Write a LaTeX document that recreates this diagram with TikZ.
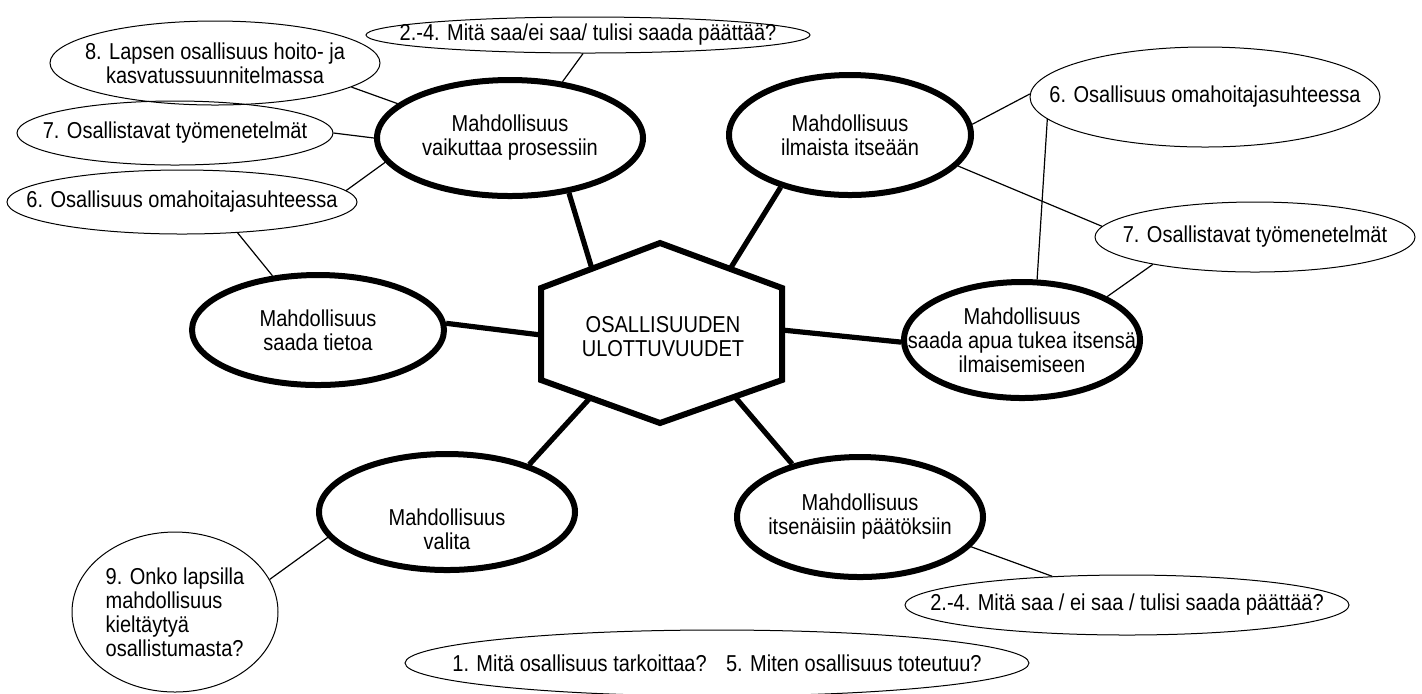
\documentclass[tikz,border=0pt]{standalone}
\usepackage{fontspec}
\setmainfont{Liberation Sans}[FakeStretch=0.87]
\usetikzlibrary{shapes.geometric}

\begin{document}
\begin{tikzpicture}[x=0.5pt, y=-0.5pt,
  every node/.style={font=\fontsize{11.5}{12}\selectfont, align=center},
  big/.style = {ellipse, draw, line width=3pt, inner xsep=-40pt, inner ysep=-10pt},
  small/.style = {ellipse, draw, line width=0.5pt, inner xsep=-40pt, inner ysep=-10pt},
  strong/.style = {line width=2.6pt},
  weak/.style = {line width=0.6pt}]
  \useasboundingbox (0,0) rectangle (1422,693);

  % centre
  \draw[line width=3pt] (660,243) -- (782,288) -- (782,380) -- (660,423) -- (541,380) -- (541,288) -- cycle;
  \node (hex) at (663,337) {OSALLISUUDEN\\ULOTTUVUUDET};
  \coordinate (hex_nw) at (592,269);
  \coordinate (hex_ne) at (730,269);
  \coordinate (hex_w) at (541,335);
  \coordinate (hex_e) at (782,330);
  \coordinate (hex_sw) at (590,398);
  \coordinate (hex_se) at (735,397);

  % dimensions
  \node[big, minimum width=133pt, minimum height=58pt] (influence) at (510,138) {Mahdollisuus\\vaikuttaa prosessiin};
  \node[big, minimum width=121pt, minimum height=60pt] (express) at (850,135) {Mahdollisuus\\ilmaista itseään};
  \node[big, minimum width=126pt, minimum height=55pt] (inform) at (318,330) {Mahdollisuus\\saada tietoa};
  \node[big, minimum width=118pt, minimum height=58pt] (support) at (1022,340) {Mahdollisuus\\saada apua tukea itsensä\\ilmaisemiseen};
  \node[big, minimum width=128pt, minimum height=58pt, text height=37pt, text depth=0pt] (choose) at (447,512) {Mahdollisuus\\valita};
  \node[big, minimum width=123pt, minimum height=60pt] (decide) at (860,517) {Mahdollisuus\\itsenäisiin päätöksiin};

  % questions
  \node[small, minimum width=222pt, minimum height=18pt] (decide_top) at (588,35) {2.-4. Mitä saa/ei saa/ tulisi saada päättää?};
  \node[small, minimum width=165pt, minimum height=42pt] (plan) at (215,63) {8. Lapsen osallisuus hoito- ja\\kasvatussuunnitelmassa};
  \node[small, minimum width=158pt, minimum height=32pt] (methods_l) at (175,133) {7. Osallistavat työmenetelmät};
  \node[small, minimum width=175pt, minimum height=32pt] (primary_l) at (182,202) {6. Osallisuus omahoitajasuhteessa};
  \node[small, minimum width=175pt, minimum height=50pt] (primary_r) at (1205,97) {6. Osallisuus omahoitajasuhteessa};
  \node[small, minimum width=160pt, minimum height=35pt] (methods_r) at (1255,237) {7. Osallistavat työmenetelmät};
  \node[small, minimum width=103pt, minimum height=80pt, align=left] (refuse) at (175,612) {9. Onko lapsilla\\mahdollisuus\\kieltäytyä\\osallistumasta?};
  \node[small, minimum width=222pt, minimum height=30pt] (decide_bottom) at (1127,605) {2.-4. Mitä saa / ei saa / tulisi saada päättää?};
  \node[small, minimum width=312pt, minimum height=33pt] (questions) at (717,663) {1. Mitä osallisuus tarkoittaa?\hspace{6pt} 5. Miten osallisuus toteutuu?};

  % spokes
  \draw[strong] (hex_nw) -- (influence.-43);
  \draw[strong] (hex_ne) -- (express.-143);
  \draw[strong] (hex_w) -- (inform.3);
  \draw[strong] (hex_e) -- (support.181);
  \draw[strong] (hex_sw) -- (choose.30);
  \draw[strong] (hex_se) -- (decide.142);

  % links to questions
  \draw[weak] (influence.47) -- (decide_top.-105);
  \draw[weak] (plan.-10) -- (influence.163);
  \draw[weak] (methods_l.east) -- (influence.west);
  \draw[weak] (primary_l.4) -- (influence.-169);
  \draw[weak] (primary_l.-29) -- (inform.130);
  \draw[weak] (express.5) -- (primary_r.179);
  \draw[weak] (express.-16) -- (methods_r.176);
  \draw[weak] (primary_r.-172) -- (support.76);
  \draw[weak] (methods_r.-165) -- (support.27);
  \draw[weak] (choose.-168) -- (refuse.19);
  \draw[weak] (decide.-15) -- (decide_bottom.159);
\end{tikzpicture}
\end{document}
